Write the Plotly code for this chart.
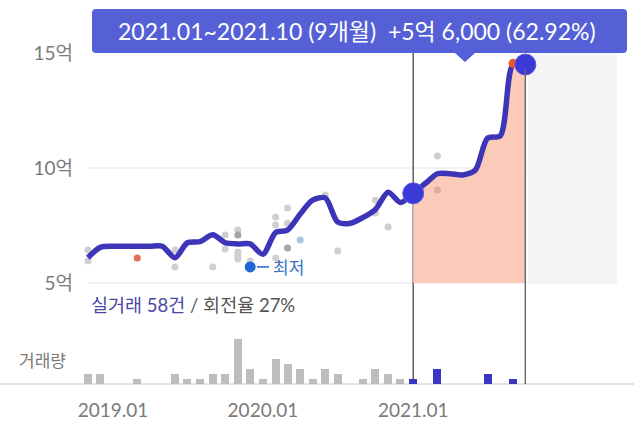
import plotly.graph_objects as go
import pandas as pd

# ---------------- data ----------------
line_months = ["2018.11", "2018.12", "2019.01", "2019.02", "2019.03", "2019.04", "2019.05",
               "2019.06", "2019.07", "2019.08", "2019.09", "2019.10", "2019.11", "2019.12",
               "2020.01", "2020.02", "2020.03", "2020.04", "2020.05", "2020.06", "2020.07",
               "2020.08", "2020.09", "2020.10", "2020.11", "2020.12", "2021.01", "2021.02",
               "2021.03", "2021.04", "2021.05", "2021.06", "2021.07", "2021.08", "2021.09",
               "2021.10"]
line_prices = [6.1, 6.55, 6.6, 6.6, 6.6, 6.6, 6.6,
               6.1, 6.75, 6.8, 7.1, 6.75, 6.7, 6.7,
               6.25, 7.2, 7.3, 8.0, 8.6, 8.7, 7.65,
               7.6, 7.85, 8.2, 8.95, 8.5, 8.9, 9.35,
               9.75, 9.75, 9.7, 9.9, 11.3, 11.4, 14.5,
               14.5]

vol_months = ["2018.11", "2018.12", "2019.03", "2019.06", "2019.07", "2019.08", "2019.09",
              "2019.10", "2019.11", "2019.12", "2020.01", "2020.02", "2020.03", "2020.04",
              "2020.05", "2020.06", "2020.07", "2020.09", "2020.10", "2020.11", "2020.12",
              "2021.01", "2021.03", "2021.07", "2021.09"]
vol_counts = [2, 2, 1, 2, 1, 1, 2, 2, 9, 3, 1, 5, 4, 3, 1, 3, 2, 1, 3, 2, 1, 1, 3, 2, 1]

deal_months = ["2018.11", "2018.11", "2019.03", "2019.06", "2019.06", "2019.09", "2019.10",
               "2019.10", "2019.11", "2019.11", "2019.11", "2019.11", "2019.11", "2019.12",
               "2020.02", "2020.02", "2020.02", "2020.03", "2020.03", "2020.03", "2020.04",
               "2020.06", "2020.07", "2020.10", "2020.10", "2020.11", "2021.03", "2021.03"]
deal_prices = [6.43, 5.96, 6.09, 6.43, 5.7, 5.7, 7.09,
               6.48, 7.3, 7.09, 6.35, 6.2, 6.04, 5.96,
               7.87, 7.52, 6.09, 8.26, 7.6, 6.52, 6.87,
               8.83, 6.39, 8.6, 8.04, 7.43, 10.52, 9.04]
deal_kinds = ["n", "n", "r", "n", "n", "n", "n",
              "n", "n", "d", "n", "n", "n", "n",
              "n", "n", "n", "n", "n", "d", "b",
              "n", "n", "n", "n", "n", "n", "t"]

low_month, low_price, low_label = "2019.12", 5.7, "최저"
high_month, high_price = "2021.09", 14.55
period_start, period_end = "2021.01", "2021.10"
period_text = "2021.01~2021.10 (9개월)  +5억 6,000 (62.92%)"
summary_main, summary_rest = "실거래 58건", " / 회전율 27%"
vol_label = "거래량"
x_ticks = ["2019.01", "2020.01", "2021.01"]
y_ticks = [5, 10, 15]
y_ticktext = ["5억", "10억", "15억"]

# ---------------- helpers ----------------
def d(m):
    return pd.Timestamp(m.replace(".", "-") + "-01")

W, H = 634, 432
ML, MB = 74, 48
PW, PH = W - ML, H - MB
DPP = 365.25 / 150.0          # days per pixel
ref = pd.Timestamp("2019-01-01")
x_range = [ref - pd.Timedelta(days=(113 - ML) * DPP), ref + pd.Timedelta(days=(W - 113) * DPP)]
y_range = [5 - (PH - 283) / 23.0, 15 + 53 / 23.0]
y2_range = [0, PH / 5.0]

def px(x):
    return (x - ML) / PW

def py(y):
    return 1 - y / PH

FONT = "Lato, 'Noto Sans CJK KR', sans-serif"
KFONT = "'Noto Sans CJK KR', Lato, sans-serif"

lx = [d(m) for m in line_months]
i0 = line_months.index(period_start)
i1 = line_months.index(period_end)

fig = go.Figure()

# volume bars
bar_colors = ["#3b36c4" if d(m) >= d(period_start) else "#bdbdbd" for m in vol_months]
fig.add_trace(go.Bar(x=[d(m) for m in vol_months], y=vol_counts, marker_color=bar_colors,
                     marker_line_width=0, width=8 * DPP * 86400000, yaxis="y2",
                     hoverinfo="skip"))

# fill under period
fig.add_trace(go.Scatter(x=lx[i0:i1 + 1], y=[5] * (i1 - i0 + 1), mode="lines",
                         line=dict(width=0, color="rgba(0,0,0,0)"), hoverinfo="skip"))
fig.add_trace(go.Scatter(x=lx[i0:i1 + 1], y=line_prices[i0:i1 + 1], mode="lines",
                         line=dict(width=0, shape="spline", smoothing=0.8, color="rgba(0,0,0,0)"),
                         fill="tonexty", fillcolor="#fbcab8", hoverinfo="skip"))

# deals
kind_color = {"n": "#cfcfd2", "d": "#a3a3a8", "r": "#e0705a", "b": "#a9c4e8", "t": "#d9ae9c"}
fig.add_trace(go.Scatter(x=[d(m) for m in deal_months], y=deal_prices, mode="markers",
                         marker=dict(size=7, color=[kind_color[k] for k in deal_kinds]),
                         hoverinfo="skip"))

# main line
fig.add_trace(go.Scatter(x=lx, y=line_prices, mode="lines",
                         line=dict(width=5.5, color="#3d35b8", shape="spline", smoothing=0.8),
                         hoverinfo="skip"))

# high point
fig.add_trace(go.Scatter(x=[d(high_month)], y=[high_price], mode="markers",
                         marker=dict(size=9, color="#f05a28"), hoverinfo="skip"))
# period endpoints
fig.add_trace(go.Scatter(x=[lx[i0], lx[i1]], y=[line_prices[i0], line_prices[i1]], mode="markers",
                         marker=dict(size=21, color="#3c3ad6", line=dict(width=1, color="#5a58e0")),
                         hoverinfo="skip"))
# lowest point
fig.add_trace(go.Scatter(x=[d(low_month)], y=[low_price], mode="markers",
                         marker=dict(size=11, color="#1f66d6"), hoverinfo="skip"))

shapes = []
# gray future region
shapes.append(dict(type="rect", xref="x", yref="y", x0=d(period_end) + pd.Timedelta(days=6),
                   x1=x_range[0] + pd.Timedelta(days=(617 - ML) * DPP), y0=5, y1=16.5,
                   fillcolor="#f4f3f6", line_width=0, layer="below"))
# gridlines
for v in [5, 10]:
    shapes.append(dict(type="line", xref="paper", yref="y", x0=px(88), x1=px(618), y0=v, y1=v,
                       line=dict(color="#e6e6e9", width=1.2), layer="below"))
# baseline
shapes.append(dict(type="line", xref="paper", yref="paper", x0=px(0), x1=1, y0=0, y1=0,
                   line=dict(color="#dadada", width=1.5), layer="below"))
# vertical period lines
shapes.append(dict(type="line", xref="x", yref="paper", x0=lx[i0], x1=lx[i0], y0=0, y1=py(52),
                   line=dict(color="#555555", width=1.4), layer="below"))
shapes.append(dict(type="line", xref="x", yref="paper", x0=lx[i1], x1=lx[i1], y0=0, y1=py(70),
                   line=dict(color="#666666", width=1.4), layer="above"))
# lowest connector
shapes.append(dict(type="line", xref="paper", yref="y", x0=px(257), x1=px(269), y0=low_price,
                   y1=low_price, line=dict(color="#1f66d6", width=1.5)))

# tooltip box with rounded corners and pointer
L, R, T, B, r = 92, 627, 9, 53, 4
tip_x, tip_y, tw = 465, 62, 10
pts = [
    ("M", L + r, T), ("L", R - r, T), ("Q", R, T, R, T + r), ("L", R, B - r), ("Q", R, B, R - r, B),
    ("L", tip_x + tw, B), ("L", tip_x, tip_y), ("L", tip_x - tw, B),
    ("L", L + r, B), ("Q", L, B, L, B - r), ("L", L, T + r), ("Q", L, T, L + r, T),
]
path = ""
for p in pts:
    cmd = p[0]
    coords = p[1:]
    s = cmd
    for k in range(0, len(coords), 2):
        s += " %.5f,%.5f" % (px(coords[k]), py(coords[k + 1]))
    path += s + " "
path += "Z"
shapes.append(dict(type="path", xref="paper", yref="paper", path=path,
                   fillcolor="#5560d6", line_width=0, layer="above"))

annotations = [
    dict(x=px(357), y=py(31), xref="paper", yref="paper", text=period_text, showarrow=False,
         font=dict(family=FONT, size=23, color="white"), xanchor="center", yanchor="middle"),
    dict(x=px(271), y=low_price, xref="paper", yref="y", text=low_label, showarrow=False,
         font=dict(family=KFONT, size=17, color="#3b6fc0"), xanchor="left", yanchor="middle"),
    dict(x=px(89), y=py(305), xref="paper", yref="paper",
         text="<span style='color:#4a46a6'>" + summary_main + "</span>" + summary_rest,
         showarrow=False, font=dict(family=FONT, size=18.5, color="#555555"),
         xanchor="left", yanchor="middle"),
    dict(x=px(17), y=py(359), xref="paper", yref="paper", text=vol_label, showarrow=False,
         font=dict(family=KFONT, size=17, color="#7a7a7a"), xanchor="left", yanchor="middle"),
]

fig.update_layout(
    width=W, height=H,
    margin=dict(l=ML, r=0, t=0, b=MB),
    paper_bgcolor="white", plot_bgcolor="white",
    showlegend=False,
    shapes=shapes, annotations=annotations,
    font=dict(family=FONT),
    bargap=0,
    xaxis=dict(type="date", range=x_range, showgrid=False, zeroline=False, showline=False,
               tickvals=[d(m) for m in x_ticks], ticktext=x_ticks,
               ticks="outside", ticklen=9, tickcolor="rgba(0,0,0,0)",
               tickfont=dict(family=FONT, size=19, color="#7a7a7a")),
    yaxis=dict(range=y_range, tickvals=y_ticks, ticktext=y_ticktext, showgrid=False,
               zeroline=False, showline=False, ticks="",
               tickfont=dict(family=FONT, size=19, color="#7a7a7a")),
    yaxis2=dict(range=y2_range, overlaying="y", visible=False),
)

fig.write_html("out.html")
